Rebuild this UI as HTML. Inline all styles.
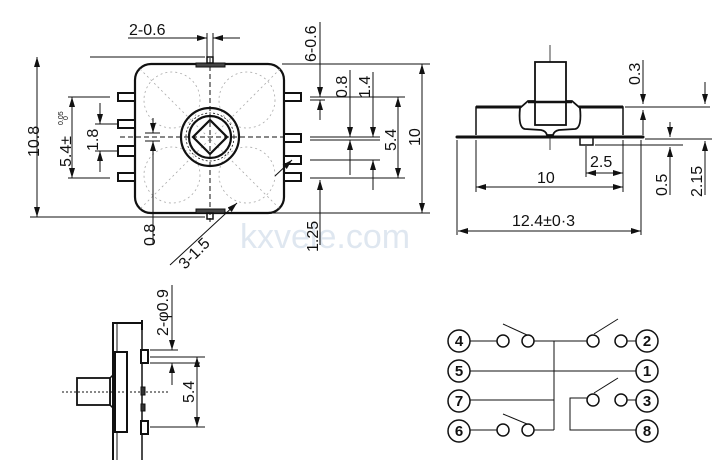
<!DOCTYPE html>
<html><head><meta charset="utf-8"><style>
html,body{margin:0;padding:0;background:#fff;}
svg{display:block;}
text{font-family:"Liberation Sans",Arial,sans-serif;fill:#111;}
</style></head><body>
<svg width="721" height="473" viewBox="0 0 721 473" xmlns="http://www.w3.org/2000/svg">
<defs>
<marker id="a" viewBox="0 0 10 6" refX="10" refY="3" markerWidth="10" markerHeight="6" orient="auto" markerUnits="userSpaceOnUse"><path d="M0,0 L10,3 L0,6 z" fill="#111"/></marker>
</defs>
<text x="240" y="248" font-size="34" style="fill:#dfe7f0">kxvele.com</text>
<g stroke="#111" stroke-width="1" fill="none">
<!-- main top view -->
<rect x="135" y="64" width="149" height="149" rx="16" stroke-width="2.2" fill="#fff"/>
<g stroke="#aaa" stroke-dasharray="2,3" stroke-width="0.8">
<circle cx="172" cy="100" r="28"/><circle cx="247" cy="100" r="28"/><circle cx="172" cy="175" r="28"/><circle cx="247" cy="175" r="28"/>
<line x1="140" y1="69" x2="280" y2="209"/><line x1="280" y1="69" x2="140" y2="209"/>
</g>
<line x1="210" y1="58" x2="210" y2="222" stroke-dasharray="5,3"/>
<line x1="120" y1="137" x2="300" y2="137" stroke-dasharray="5,3"/>
<rect x="196" y="63" width="29" height="4" fill="#444"/>
<rect x="207" y="57" width="6" height="6" stroke-width="1.5"/>
<rect x="196" y="209" width="29" height="4" fill="#444"/>
<rect x="207" y="213" width="6" height="6" stroke-width="1.5"/>
<g stroke-width="2" fill="#fff">
<rect x="118" y="93" width="17" height="8"/><rect x="118" y="120" width="17" height="8"/><rect x="118" y="146" width="17" height="10"/><rect x="118" y="173" width="17" height="8"/>
<rect x="284" y="93" width="17" height="8"/><rect x="284" y="134" width="17" height="8"/><rect x="284" y="156" width="17" height="8"/><rect x="284" y="173" width="17" height="8"/>
</g>
<circle cx="210" cy="137" r="29" stroke-width="2.2"/>
<circle cx="210" cy="137" r="24" stroke-width="0.8" stroke-dasharray="2,2"/>
<circle cx="210" cy="137" r="21" stroke-width="2.2"/>
<path d="M210,120 L227,137 L210,154 L193,137 z" stroke-width="2.2"/>
<!-- dims left -->
<line x1="90" y1="57" x2="205" y2="57"/><line x1="30" y1="217" x2="205" y2="217"/>
<line x1="37" y1="137" x2="37" y2="57" marker-end="url(#a)"/><line x1="37" y1="137" x2="37" y2="217" marker-end="url(#a)"/>
<line x1="68" y1="97" x2="110" y2="97"/><line x1="68" y1="178" x2="110" y2="178"/>
<line x1="72" y1="137" x2="72" y2="97" marker-end="url(#a)"/><line x1="72" y1="137" x2="72" y2="178" marker-end="url(#a)"/>
<line x1="95" y1="124" x2="118" y2="124"/><line x1="95" y1="151" x2="118" y2="151"/>
<line x1="100" y1="103" x2="100" y2="124" marker-end="url(#a)"/><line x1="100" y1="172" x2="100" y2="151" marker-end="url(#a)"/>
<line x1="153" y1="118" x2="153" y2="133" marker-end="url(#a)"/><line x1="153" y1="245" x2="153" y2="141" marker-end="url(#a)"/>
<line x1="145" y1="133" x2="160" y2="133"/><line x1="145" y1="141" x2="160" y2="141"/>
<line x1="170" y1="265" x2="237" y2="203" marker-end="url(#a)"/>
<line x1="275" y1="176" x2="292" y2="160" marker-end="url(#a)"/>
<line x1="128" y1="38" x2="207" y2="38" marker-end="url(#a)"/><line x1="240" y1="38" x2="213" y2="38" marker-end="url(#a)"/>
<line x1="207" y1="33" x2="207" y2="57"/><line x1="213" y1="33" x2="213" y2="57"/>
<!-- dims right -->
<line x1="282" y1="64" x2="430" y2="64"/><line x1="270" y1="213" x2="430" y2="213"/>
<line x1="422" y1="137" x2="422" y2="64" marker-end="url(#a)"/><line x1="422" y1="137" x2="422" y2="213" marker-end="url(#a)"/>
<line x1="310" y1="97" x2="405" y2="97"/><line x1="310" y1="100" x2="325" y2="100"/>
<line x1="310" y1="137" x2="380" y2="137"/><line x1="310" y1="140" x2="380" y2="140"/>
<line x1="310" y1="160" x2="380" y2="160"/><line x1="310" y1="178" x2="405" y2="178"/>
<line x1="320" y1="22" x2="320" y2="97" marker-end="url(#a)"/><line x1="320" y1="120" x2="320" y2="100" marker-end="url(#a)"/>
<line x1="350" y1="70" x2="350" y2="137" marker-end="url(#a)"/><line x1="350" y1="175" x2="350" y2="140" marker-end="url(#a)"/>
<line x1="373" y1="72" x2="373" y2="137" marker-end="url(#a)"/><line x1="373" y1="190" x2="373" y2="160" marker-end="url(#a)"/>
<line x1="398" y1="137" x2="398" y2="97" marker-end="url(#a)"/><line x1="398" y1="137" x2="398" y2="178" marker-end="url(#a)"/>
<line x1="320" y1="245" x2="320" y2="180" marker-end="url(#a)"/>
<!-- side view right -->
<line x1="550" y1="45" x2="550" y2="150" stroke-width="0.8"/>
<path d="M457,137 L643,137" stroke-width="3" stroke-linecap="round"/>
<path d="M476,135 L476,107 L623,107 L623,135" stroke-width="1.5" fill="#fff"/>
<line x1="476" y1="107" x2="623" y2="107" stroke-width="3"/>
<path d="M520,108 L528,101 L572,101 L580,108 Q582,128 575,129 L559,130 Q554,131 553,135 L547,135 Q546,131 541,130 L525,129 Q518,128 520,108 z" stroke-width="1.8" fill="#fff"/>
<rect x="535" y="62" width="31" height="63" stroke-width="1.8" fill="#fff"/>
<line x1="528" y1="102" x2="572" y2="102" stroke-width="2.5"/>
<rect x="580" y="137" width="13" height="8" stroke-width="1.5"/>
<line x1="625" y1="107" x2="710" y2="107"/><line x1="645" y1="139" x2="712" y2="139"/><line x1="595" y1="145" x2="683" y2="145"/>
<line x1="643" y1="60" x2="643" y2="104" marker-end="url(#a)"/><line x1="643" y1="135" x2="643" y2="110" marker-end="url(#a)"/>
<line x1="705" y1="82" x2="705" y2="104" marker-end="url(#a)"/><line x1="705" y1="195" x2="705" y2="141" marker-end="url(#a)"/>
<line x1="670" y1="122" x2="670" y2="137" marker-end="url(#a)"/><line x1="670" y1="195" x2="670" y2="147" marker-end="url(#a)"/>
<line x1="457" y1="140" x2="457" y2="235"/><line x1="476" y1="140" x2="476" y2="192"/><line x1="623" y1="140" x2="623" y2="192"/><line x1="641" y1="140" x2="641" y2="235"/><line x1="586" y1="146" x2="586" y2="177"/>
<line x1="604" y1="173" x2="586" y2="173" marker-end="url(#a)"/><line x1="604" y1="173" x2="623" y2="173" marker-end="url(#a)"/>
<line x1="548" y1="187" x2="476" y2="187" marker-end="url(#a)"/><line x1="548" y1="187" x2="623" y2="187" marker-end="url(#a)"/>
<line x1="548" y1="231" x2="458" y2="231" marker-end="url(#a)"/><line x1="548" y1="231" x2="641" y2="231" marker-end="url(#a)"/>
<!-- bottom-left side view -->
<path d="M113,460 L113,323 L142,323 M142,320 L142,330" stroke-width="2"/>
<line x1="117" y1="323" x2="117" y2="460" stroke-width="1"/>
<line x1="142" y1="330" x2="142" y2="460" stroke-width="1.5"/>
<rect x="115" y="352" width="12" height="80" stroke-width="2" fill="#fff"/>
<path d="M113,375 L110,378 L110,405 L113,408" stroke-width="1.5"/>
<rect x="77" y="378" width="33" height="27" stroke-width="1.8" fill="#fff"/>
<line x1="62" y1="392" x2="170" y2="392" stroke-dasharray="2,2"/>
<rect x="141" y="350" width="7" height="13" stroke-width="2" fill="#fff"/>
<rect x="141" y="421" width="7" height="13" stroke-width="2" fill="#fff"/>
<rect x="141" y="387" width="4" height="8" fill="#333"/><rect x="141" y="404" width="4" height="7" fill="#333"/>
<line x1="150" y1="350" x2="178" y2="350"/><line x1="150" y1="363" x2="200" y2="363"/><line x1="150" y1="357" x2="205" y2="357"/><line x1="150" y1="427" x2="205" y2="427"/>
<line x1="172" y1="285" x2="172" y2="350" marker-end="url(#a)"/><line x1="172" y1="385" x2="172" y2="363" marker-end="url(#a)"/>
<line x1="197" y1="392" x2="197" y2="357" marker-end="url(#a)"/><line x1="197" y1="392" x2="197" y2="427" marker-end="url(#a)"/>
<!-- schematic -->
<g stroke-width="1.5">
<circle cx="459" cy="341" r="11"/><circle cx="459" cy="371" r="11"/><circle cx="459" cy="401" r="11"/><circle cx="459" cy="431" r="11"/>
<circle cx="647" cy="341" r="11"/><circle cx="647" cy="371" r="11"/><circle cx="647" cy="401" r="11"/><circle cx="647" cy="431" r="11"/>
<circle cx="503" cy="341" r="6"/><circle cx="528" cy="341" r="6"/><circle cx="593" cy="341" r="6"/><circle cx="621" cy="341" r="6"/>
<circle cx="593" cy="400" r="6"/><circle cx="621" cy="400" r="6"/><circle cx="503" cy="430" r="6"/><circle cx="528" cy="430" r="6"/>
</g>
<line x1="470" y1="341" x2="497" y2="341"/><line x1="534" y1="341" x2="587" y2="341"/><line x1="627" y1="341" x2="636" y2="341"/>
<line x1="470" y1="371" x2="636" y2="371"/>
<line x1="470" y1="400" x2="554" y2="400"/>
<line x1="470" y1="430" x2="497" y2="430"/><line x1="534" y1="430" x2="554" y2="430"/>
<line x1="554" y1="341" x2="554" y2="430"/>
<line x1="627" y1="400" x2="636" y2="400"/>
<path d="M587,398 L570,398 L570,430 L636,430"/>
<line x1="503" y1="324" x2="527" y2="335"/><line x1="594" y1="334" x2="618" y2="319"/>
<line x1="594" y1="393" x2="618" y2="378"/><line x1="503" y1="414" x2="527" y2="424"/>
</g>
<g font-size="16">
<text x="129" y="35">2-0.6</text>
<text transform="translate(39,157) rotate(-90)">10.8</text>
<text transform="translate(71,167) rotate(-90)">5.4±</text>
<text transform="translate(63,125) rotate(-90)" font-size="7">0.05</text>
<text transform="translate(68,120) rotate(-90)" font-size="7">0</text>
<text transform="translate(98,151) rotate(-90)">1.8</text>
<text transform="translate(155,246) rotate(-90)">0.8</text>
<text transform="translate(185,270) rotate(-45)">3-1.5</text>
<text transform="translate(316,62) rotate(-90)">6-0.6</text>
<text transform="translate(347,98) rotate(-90)">0.8</text>
<text transform="translate(370,98) rotate(-90)">1.4</text>
<text transform="translate(396,151) rotate(-90)">5.4</text>
<text transform="translate(420,146) rotate(-90)">10</text>
<text transform="translate(318,252) rotate(-90)">1.25</text>
<text transform="translate(640,85) rotate(-90)">0.3</text>
<text x="590" y="167">2.5</text>
<text x="537" y="183">10</text>
<text x="512" y="226">12.4±0·3</text>
<text transform="translate(667,196) rotate(-90)">0.5</text>
<text transform="translate(702,197) rotate(-90)">2.15</text>
<text transform="translate(168,336) rotate(-90)">2-φ0.9</text>
<text transform="translate(194,403) rotate(-90)">5.4</text>
</g>
<g font-size="15" font-weight="bold" text-anchor="middle">
<text x="459" y="346">4</text><text x="459" y="376">5</text><text x="459" y="406">7</text><text x="459" y="436">6</text>
<text x="647" y="346">2</text><text x="647" y="376">1</text><text x="647" y="406">3</text><text x="647" y="436">8</text>
</g>
</svg>
</body></html>
